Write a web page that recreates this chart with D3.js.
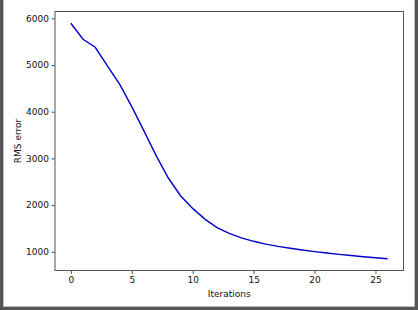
<!DOCTYPE html>
<html>
<head>
<meta charset="utf-8">
<script src="https://cdn.jsdelivr.net/npm/d3@7"></script>
<style>
  body { margin: 0; background: #fff; }
  text { font-family: "DejaVu Sans", sans-serif; }
</style>
</head>
<body>
<div id="chart-area"></div>
<script>
// values
const iterations = d3.range(0, 27);
const rmsError = [5893, 5550, 5379, 4980, 4590, 4107, 3590, 3060, 2580, 2200,
  1930, 1700, 1520, 1395, 1300, 1225, 1165, 1117, 1077, 1040,
  1005, 975, 946, 920, 895, 872, 852];
const xTicks = [0, 5, 10, 15, 20, 25];
const yTicks = [1000, 2000, 3000, 4000, 5000, 6000];

const W = 418, H = 310;
const margin = { left: 55, right: 418 - 403.5, top: 11.5, bottom: 310 - 270.5 },
  width = W - margin.left - margin.right,
  height = H - margin.top - margin.bottom;

let svg = d3.select('#chart-area')
  .append('svg')
  .attr('width', W)
  .attr('height', H)

svg.append('rect').attr('width', W).attr('height', H).attr('fill', '#fff')

// window frame (left, right, bottom)
svg.append('rect').attr('x', 0).attr('y', 0).attr('width', 3).attr('height', H).attr('fill', '#555')
svg.append('rect').attr('x', W - 3).attr('y', 0).attr('width', 3).attr('height', H).attr('fill', '#555')
svg.append('rect').attr('x', 0).attr('y', H - 3).attr('width', W).attr('height', 3).attr('fill', '#555')
svg.append('line').attr('x1', 3.5).attr('x2', 3.5).attr('y1', 0).attr('y2', H - 3).attr('stroke', '#bbb')
svg.append('line').attr('x1', W - 3.5).attr('x2', W - 3.5).attr('y1', 0).attr('y2', H - 3).attr('stroke', '#bbb')
svg.append('line').attr('x1', 3).attr('x2', W - 3).attr('y1', H - 3.5).attr('y2', H - 3.5).attr('stroke', '#bbb')

let g = svg.append('g')
  .attr('transform', `translate(${margin.left}, ${margin.top})`)

// matplotlib-style 5% margins
const xPad = (26 - 0) * 0.05;
const yMin = d3.min(rmsError), yMax = d3.max(rmsError), yPad = (yMax - yMin) * 0.05;

let x = d3.scaleLinear()
  .domain([0 - xPad, 26 + xPad])
  .range([0, width])

let y = d3.scaleLinear()
  .domain([yMin - yPad, yMax + yPad])
  .range([height, 0])

let xAxis = g.append('g')
  .attr('transform', `translate(0, ${height})`)
  .call(d3.axisBottom(x).tickValues(xTicks).tickSize(3.5).tickPadding(2.5).tickFormat(d3.format('d')))

let yAxis = g.append('g')
  .call(d3.axisLeft(y).tickValues(yTicks).tickSize(3.5).tickPadding(2.5).tickFormat(d3.format('d')))

g.selectAll('.domain').remove()
g.selectAll('.tick line').attr('stroke', '#222').attr('stroke-width', 0.8)
g.selectAll('.tick text').attr('fill', '#111').style('font-size', '9px').style('font-family', 'DejaVu Sans')

// frame of the axes
g.append('rect')
  .attr('x', 0).attr('y', 0)
  .attr('width', width).attr('height', height)
  .attr('fill', 'none')
  .attr('stroke', '#555')
  .attr('stroke-width', 1)

let line = d3.line()
  .x((d, i) => x(iterations[i]))
  .y(d => y(d))

g.append('path')
  .datum(rmsError)
  .attr('d', line)
  .attr('fill', 'none')
  .attr('stroke', '#0000cc')
  .attr('stroke-width', 1.4)

g.append('text')
  .attr('x', width / 2)
  .attr('y', height + 26)
  .attr('text-anchor', 'middle')
  .style('font-size', '9px')
  .attr('fill', '#111')
  .text('Iterations')

g.append('text')
  .attr('transform', `translate(${-34}, ${height / 2}) rotate(-90)`)
  .attr('text-anchor', 'middle')
  .style('font-size', '9px')
  .attr('fill', '#111')
  .text('RMS error')
</script>
</body>
</html>
